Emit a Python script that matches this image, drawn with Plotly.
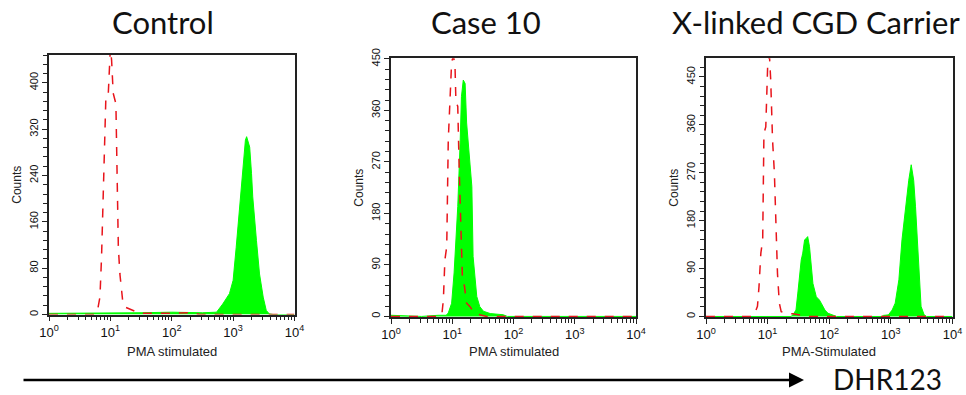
import plotly.graph_objects as go

# ---------------- data (log10 fluorescence, counts) ----------------
control_green_log = [0, 0.5, 1.0, 1.5, 2.0, 2.3, 2.5, 2.73, 2.83, 2.94, 3.0, 3.05, 3.11, 3.16, 3.2, 3.22, 3.25, 3.27, 3.3, 3.32, 3.38, 3.43, 3.49, 3.54, 3.59, 3.65, 4.0]
control_green_cnt = [2, 2, 3, 3, 4, 3, 3, 4, 18, 36, 59, 116, 186, 243, 301, 307, 298, 289, 243, 203, 128, 70, 30, 7, 1, 0, 0]
control_red_log = [0, 0.75, 0.79, 0.83, 0.856, 0.894, 0.927, 0.965, 0.99, 1.0, 1.02, 1.046, 1.09, 1.11, 1.13, 1.155, 1.2, 1.235, 1.34, 1.48, 1.8, 2.1, 2.35, 2.45, 4.0]
control_red_cnt = [0, 0, 7, 30, 99, 232, 376, 379, 448, 460, 439, 382, 364, 186, 116, 70, 24, 13, 8, 2, 2, 3, 3, 0, 0]

case10_green_log = [0, 0.5, 0.77, 0.9, 0.935, 0.99, 1.03, 1.06, 1.09, 1.13, 1.15, 1.18, 1.21, 1.235, 1.29, 1.32, 1.34, 1.4, 1.45, 1.51, 1.62, 1.83, 1.9, 4.0]
case10_green_cnt = [2, 0, 2, 2, 6, 23, 76, 134, 192, 308, 384, 413, 407, 338, 268, 227, 105, 35, 17, 9, 5, 3, 0, 0]
case10_red_log = [0, 0.8, 0.83, 0.855, 0.88, 0.91, 0.935, 0.96, 0.99, 1.02, 1.045, 1.06, 1.09, 1.115, 1.14, 1.165, 1.2, 1.235, 1.29, 1.34, 1.45, 1.56, 4.0]
case10_red_cnt = [0, 0, 3, 29, 99, 122, 308, 375, 445, 455, 437, 375, 367, 250, 151, 70, 52, 23, 17, 9, 3, 0, 0]

carrier_green_log = [0, 1.38, 1.41, 1.46, 1.49, 1.52, 1.545, 1.57, 1.6, 1.63, 1.65, 1.68, 1.71, 1.735, 1.79, 1.84, 1.87, 1.93, 1.98, 2.06, 2.12, 2.85, 2.88, 2.96, 3.02, 3.07, 3.13, 3.18, 3.24, 3.29, 3.33, 3.37, 3.4, 3.43, 3.47, 3.49, 3.54, 3.58, 4.0]
carrier_green_cnt = [0, 0, 3, 12, 44, 81, 106, 119, 144, 147, 150, 131, 94, 62, 37, 31, 25, 12, 6, 2, 0, 0, 2, 3, 12, 25, 69, 144, 206, 256, 285, 256, 206, 144, 69, 19, 3, 0, 0]
carrier_red_log = [0, 0.75, 0.78, 0.835, 0.86, 0.89, 0.92, 0.94, 0.97, 1.0, 1.03, 1.05, 1.08, 1.11, 1.135, 1.16, 1.19, 1.22, 1.3, 1.41, 1.57, 1.65, 4.0]
carrier_red_cnt = [0, 0, 3, 19, 56, 119, 144, 344, 356, 469, 490, 444, 331, 269, 175, 81, 25, 9, 6, 5, 2, 0, 0]

titles = ["Control", "Case 10", "X-linked CGD Carrier"]
x_titles = ["PMA stimulated", "PMA stimulated", "PMA-Stimulated"]
y_ranges = [[0, 448], [-1, 451], [-1, 485]]
y_major = [80, 90, 90]
y_minor = [16, 18, 18]
major_x = [1, 10, 100, 1000, 10000]
major_x_text = ["10<sup>0</sup>", "10<sup>1</sup>", "10<sup>2</sup>", "10<sup>3</sup>", "10<sup>4</sup>"]
minor_x = [m * d for d in [1, 10, 100, 1000] for m in range(2, 10)]

W, H = 966, 395
# plot frames in pixels: (left, right, top, bottom)
frames = [(49, 294.5, 55, 314.5), (391, 636, 58.3, 317), (706, 952.5, 58.3, 317)]
title_cx = [163, 486, 816]

series = [
    (control_green_log, control_green_cnt, control_red_log, control_red_cnt),
    (case10_green_log, case10_green_cnt, case10_red_log, case10_red_cnt),
    (carrier_green_log, carrier_green_cnt, carrier_red_log, carrier_red_cnt),
]

fig = go.Figure()
annotations = []
font_small = "Liberation Sans, Arial, sans-serif"

for i, (gl, gc, rl, rc) in enumerate(series):
    xa = "x" if i == 0 else f"x{i+1}"
    ya = "y" if i == 0 else f"y{i+1}"
    fig.add_trace(go.Scatter(x=[10 ** v for v in gl], y=gc, xaxis=xa, yaxis=ya,
                             mode="lines", fill="tozeroy", fillcolor="#00ff00",
                             line=dict(color="#00ff00", width=1), showlegend=False))
    fig.add_trace(go.Scatter(x=[10 ** v for v in rl], y=rc, xaxis=xa, yaxis=ya,
                             mode="lines", line=dict(color="#e8141b", width=1.5, dash="dash"),
                             showlegend=False))
    l, r, t, b = frames[i]
    xdom = [l / W, r / W]
    ydom = [(H - b) / H, (H - t) / H]
    xkey = "xaxis" if i == 0 else f"xaxis{i+1}"
    ykey = "yaxis" if i == 0 else f"yaxis{i+1}"
    fig.update_layout(**{
        xkey: dict(domain=xdom, anchor=ya, type="log", range=[0, 4], automargin=False,
                   showline=True, mirror=True, linecolor="#222", linewidth=1.5,
                   showgrid=False, zeroline=False,
                   tickvals=major_x, ticktext=major_x_text, ticks="outside", ticklen=5,
                   tickcolor="#222", tickfont=dict(family=font_small, size=13, color="#111"),
                   minor=dict(tickvals=minor_x, ticks="outside", ticklen=4, tickcolor="#222")),
        ykey: dict(domain=ydom, anchor=xa, range=y_ranges[i], automargin=False,
                   showline=True, mirror=True, linecolor="#222", linewidth=1.5,
                   showgrid=False, zeroline=False,
                   tick0=0, dtick=y_major[i], ticks="outside", ticklen=5, tickcolor="#222",
                   tickangle=-90, tickfont=dict(family=font_small, size=11, color="#111"),
                   minor=dict(dtick=y_minor[i], ticks="outside", ticklen=4, tickcolor="#222")),
    })
    annotations.append(dict(text=titles[i], x=title_cx[i] / W, y=(H - 22.5) / H,
                            xref="paper", yref="paper", xanchor="center", yanchor="middle",
                            showarrow=False, font=dict(family="Lato, sans-serif", size=31, color="#111")))
    annotations.append(dict(text=x_titles[i], x=(l + r) / 2 / W, y=(H - 351) / H,
                            xref="paper", yref="paper", xanchor="center", yanchor="middle",
                            showarrow=False, font=dict(family=font_small, size=13, color="#222")))
    annotations.append(dict(text="Counts", x=(l - 32) / W, y=(H - (t + b) / 2) / H,
                            xref="paper", yref="paper", xanchor="center", yanchor="middle",
                            textangle=-90, showarrow=False,
                            font=dict(family=font_small, size=12, color="#222")))

# DHR123 arrow
annotations.append(dict(text="", x=804 / W, y=(H - 380) / H, xref="paper", yref="paper",
                        ax=-(804 - 22), ay=0, showarrow=True, arrowhead=2, arrowsize=1.2,
                        arrowwidth=2.5, arrowcolor="#000"))
annotations.append(dict(text="DHR123", x=887 / W, y=(H - 379) / H, xref="paper", yref="paper",
                        xanchor="center", yanchor="middle", showarrow=False,
                        font=dict(family="Lato, sans-serif", size=28, color="#111")))

fig.update_layout(width=W, height=H, margin=dict(l=0, r=0, t=0, b=0),
                  paper_bgcolor="white", plot_bgcolor="white", annotations=annotations)
fig.write_html("out.html", config={"displayModeBar": False},
               post_script="document.body.style.margin='0px';document.body.style.overflow='hidden';")
